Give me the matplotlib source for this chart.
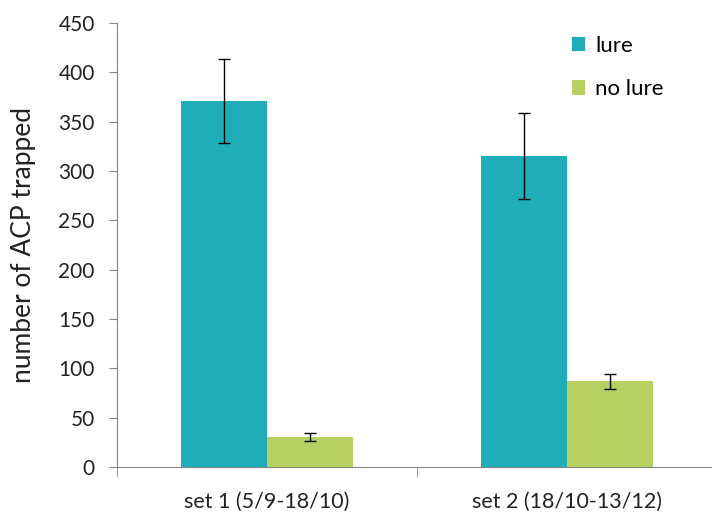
import matplotlib
matplotlib.use("Agg")
import matplotlib.pyplot as plt
import numpy as np

# data
sets = ["set 1 (5/9-18/10)", "set 2 (18/10-13/12)"]
lure = [371, 315]
lure_err = [43, 43.5]
no_lure = [30.5, 87]
no_lure_err = [4.4, 7.7]

teal = "#1FAEB8"
green = "#B7D062"
axis_grey = "#868686"

plt.rcParams["font.family"] = ["Lato", "DejaVu Sans"]

fig = plt.figure(figsize=(7.12, 5.12), dpi=100)
ax = fig.add_axes([117 / 712, 45 / 512, 600 / 712, 444 / 512])

x = np.arange(len(sets))
w = 1 / 3.5  # excel gap width 150%

err_kw = dict(ecolor="black", elinewidth=1, capsize=4.5, capthick=1)
ax.bar(x - w / 2, lure, w, color=teal, label="lure",
       yerr=lure_err, error_kw=err_kw)
ax.bar(x + w / 2, no_lure, w, color=green, label="no lure",
       yerr=no_lure_err, error_kw=err_kw)

ax.set_xlim(-0.5, 1.5)
ax.set_ylim(0, 450)
ax.set_yticks(range(0, 451, 50))
ax.tick_params(axis="y", labelsize=15, length=6, color=axis_grey,
               labelcolor="#222222", pad=10)

# category labels centred, tick marks on the category boundaries
ax.set_xticks(x)
ax.set_xticklabels(sets)
ax.tick_params(axis="x", which="major", length=0, labelsize=15.5,
               labelcolor="#222222", pad=18)
ax.set_xticks([-0.5, 0.5, 1.5], minor=True)
ax.tick_params(axis="x", which="minor", length=7, color=axis_grey)

for side in ["top", "right"]:
    ax.spines[side].set_visible(False)
for side in ["left", "bottom"]:
    ax.spines[side].set_color(axis_grey)

ax.set_ylabel("number of ACP trapped", fontsize=19, color="#222222")
ax.yaxis.set_label_coords(-0.135, 0.5)

ax.legend(loc="upper left", bbox_to_anchor=(552 / 712, 1 - 16 / 512),
          bbox_transform=fig.transFigure, frameon=False, fontsize=16,
          handlelength=0.6, handleheight=0.6, handletextpad=0.45,
          labelspacing=1.05)

fig.savefig("out.png", dpi=100)
